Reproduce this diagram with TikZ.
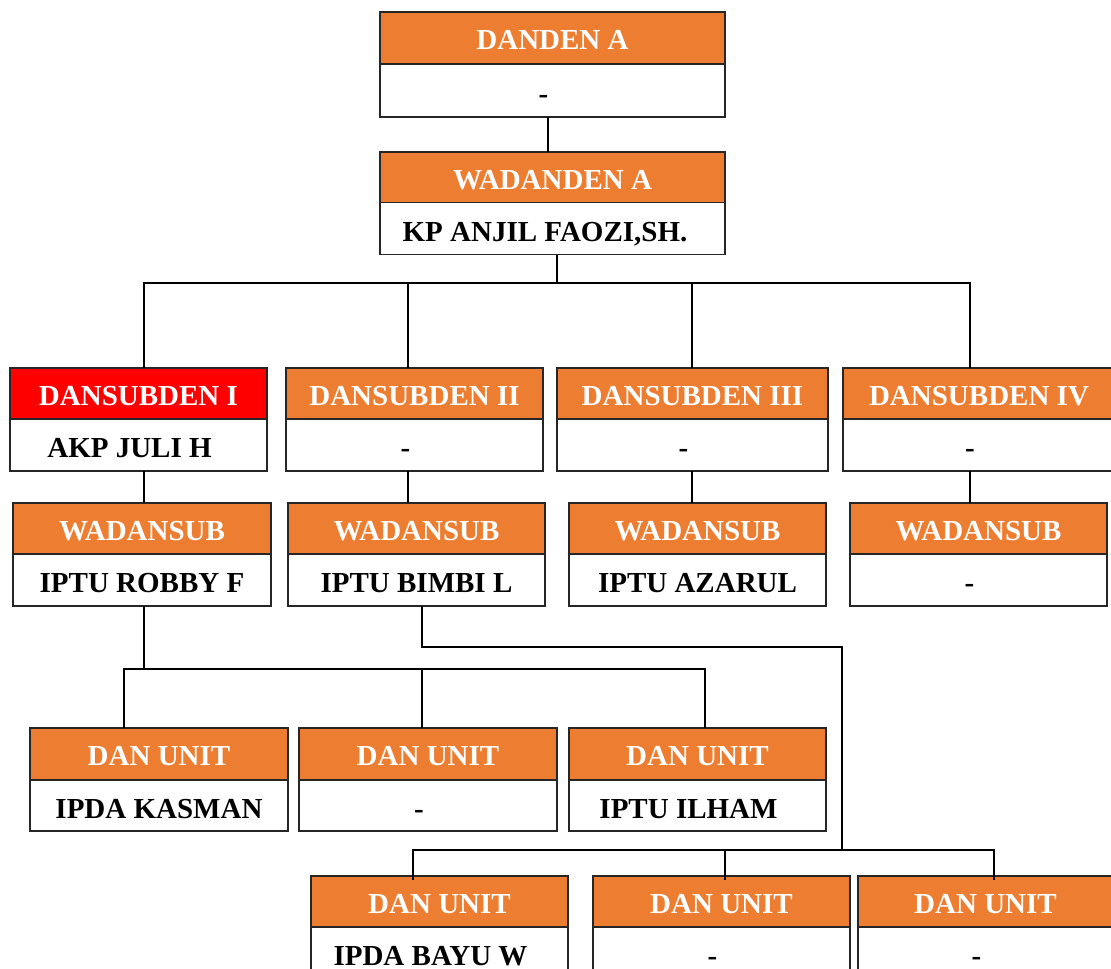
\documentclass[tikz,border=0pt]{standalone}
\usepackage{fontspec}
\setmainfont{Liberation Serif}
\definecolor{orgorange}{HTML}{ED7D31}
\definecolor{orgred}{HTML}{FF0000}
\tikzset{
  boxline/.style={draw=black!85, line width=1.1pt, outer sep=0pt, inner sep=0pt, anchor=north},
  hdr/.style={boxline, text=white, font=\bfseries\fontsize{29}{34}\selectfont, text height=26pt, text depth=2.5pt},
  bdy/.style={boxline, fill=white, text=black, font=\bfseries\fontsize{29}{34}\selectfont, text height=27pt, text depth=2pt},
  conn/.style={draw=black, line width=2.2pt},
}
\newcommand\lft[1]{#1\hspace*{18pt}}
\newcommand\orgbox[9]{%
  \node[hdr, fill=#7, minimum width={#3-#2}, minimum height=#5] (#1-h) at ({(#2+#3)/2},#4) {#8};
  \node[bdy, minimum width={#3-#2}, minimum height=#6] (#1-b) at (#1-h.south) {#9};
}
\begin{document}
\begin{tikzpicture}[x=1pt,y=-1pt]
\useasboundingbox (0,0) rectangle (1111,969);
\clip (0,0) rectangle (1111,969);
\fill[white] (0,0) rectangle (1111,969);
% top
\orgbox{A}{380}{725}{12}{52}{53}{orgorange}{DANDEN A}{\lft{-}}
\orgbox{B}{380}{725}{152}{50.5}{52}{orgorange}{WADANDEN A}{KP ANJIL FAOZI,SH.\hspace*{15pt}}
% dansubden
\orgbox{S1}{10}{267}{368}{51}{52}{orgred}{DANSUBDEN I}{\lft{AKP JULI H}}
\orgbox{S2}{286}{543}{368}{51}{52}{orgorange}{DANSUBDEN II}{\lft{-}}
\orgbox{S3}{557}{828}{368}{51}{52}{orgorange}{DANSUBDEN III}{\lft{-}}
\orgbox{S4}{843}{1115}{368}{51}{52}{orgorange}{DANSUBDEN IV}{\lft{-}}
% wadansub
\orgbox{W1}{13}{271}{503}{51}{52}{orgorange}{WADANSUB}{IPTU ROBBY F}
\orgbox{W2}{288}{545}{503}{51}{52}{orgorange}{WADANSUB}{IPTU BIMBI L}
\orgbox{W3}{569}{826}{503}{51}{52}{orgorange}{WADANSUB}{IPTU AZARUL}
\orgbox{W4}{850}{1107}{503}{51}{52}{orgorange}{WADANSUB}{\lft{-}}
% dan unit row 1
\orgbox{U1}{30}{288}{728}{52}{51}{orgorange}{DAN UNIT}{IPDA KASMAN}
\orgbox{U2}{299}{557}{728}{52}{51}{orgorange}{DAN UNIT}{\lft{-}}
\orgbox{U3}{569}{826}{728}{52}{51}{orgorange}{DAN UNIT}{\lft{IPTU ILHAM}}
% dan unit row 2
\orgbox{V1}{311}{568}{876}{51}{52}{orgorange}{DAN UNIT}{\lft{IPDA BAYU W}}
\orgbox{V2}{593}{850}{876}{51}{52}{orgorange}{DAN UNIT}{\lft{-}}
\orgbox{V3}{858}{1113}{876}{51}{52}{orgorange}{DAN UNIT}{\lft{-}}
% junctions
\coordinate (j1) at (557,283);
\coordinate (j2) at (144,669);
\coordinate (j3a) at (842,647);
\coordinate (j3) at (842,850);
% connectors
\draw[conn] ([xshift=-4.5pt]A-b.south) -- ([xshift=-4.5pt]B-h.north);
\draw[conn] ([xshift=4.5pt]B-b.south) -- (j1);
\draw[conn] ([xshift=5.5pt]S1-h.north) |- (j1);
\draw[conn] ([xshift=-6.5pt]S2-h.north) |- (j1);
\draw[conn] ([xshift=-0.5pt]S3-h.north) |- (j1);
\draw[conn] ([xshift=-9pt]S4-h.north) |- (j1);
\draw[conn] ([xshift=5.5pt]S1-b.south) -- ([xshift=2pt]W1-h.north);
\draw[conn] ([xshift=-6.5pt]S2-b.south) -- ([xshift=-8.5pt]W2-h.north);
\draw[conn] ([xshift=-0.5pt]S3-b.south) -- ([xshift=-5.5pt]W3-h.north);
\draw[conn] ([xshift=-9pt]S4-b.south) -- ([xshift=-8.5pt]W4-h.north);
\draw[conn] ([xshift=2pt]W1-b.south) -- (j2);
\draw[conn] ([xshift=-35pt]U1-h.north) |- (j2);
\draw[conn] ([xshift=-6pt]U2-h.north) |- (j2);
\draw[conn] ([xshift=7.5pt]U3-h.north) |- (j2);
\draw[conn] ([xshift=5.5pt]W2-b.south) |- (j3a) -- (j3);
\draw[conn] ([xshift=-26.5pt,yshift=-4pt]V1-h.north) |- (j3);
\draw[conn] ([xshift=3.5pt,yshift=-4pt]V2-h.north) |- (j3);
\draw[conn] ([xshift=8.5pt,yshift=-4pt]V3-h.north) |- (j3);
\end{tikzpicture}
\end{document}
